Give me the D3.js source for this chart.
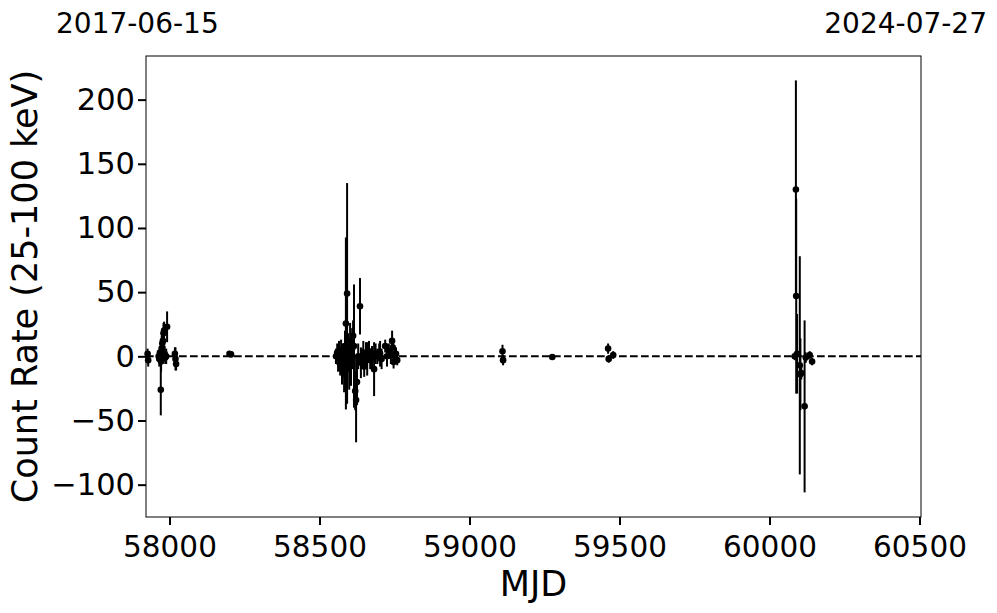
<!DOCTYPE html>
<html><head><meta charset="utf-8">
<script src="https://cdn.jsdelivr.net/npm/d3@7"></script>
<style>body{margin:0;background:#fff}svg{display:block;font-family:"DejaVu Sans",sans-serif}</style>
</head><body><svg id="c" width="997" height="613"></svg>
<script>
// Data (MJD, count rate 25-100 keV, 1-sigma error)
const mjd = [
  57927,57929,57964,57966,57968,57971,57972,57974,57976,57978,57980,57982,57984,57986,57989,57992,
  58018,58020,58022,58200,58205,
  58555,58559,58562,58565,58569,58572,58575,58579,58582,58585,58588,58592,58595,58599,58602,58605,
  58609,58612,58615,58619,58622,58625,58629,58635,58638,58642,58646,58649,58655,58659,58665,58669,
  58675,58682,58687,58693,58699,58702,58707,58719,58725,58731,58738,58742,58744,58747,58751,58755,58759,
  59110,59112,59276,59462,59464,59479,
  60084,60088,60089,60092,60101,60103,60106,60117,60121,60134,60142
];
const rate = [
  2,-3,0,-2,3,-26,-4,6,10,12,18,20,2,-1,0,23,
  2,-2,-6,2,1.5,
  0,3,-4,2,-6,5,-10,1,-14,8,25.6,49,3,-8,12,-3,
  6,16,8,-27,-34,-20,0,39,-5,-2,3,-8,1,-2,4,-3,
  -1,-10,2,0,3,2,-2,8,0,4,1,12,7,-4.5,0,2,-3,
  4,-3,-0.5,6,-2,1,
  0,130,47,2,-7,-14,-13,-39,-1,1,-4
];
const err = [
  4,5,4,6,5,20,8,10,8,9,8,7,6,5,6,12,
  5,9,5,2,2,
  6,7,8,10,9,8,12,9,14,12,67,86,15,18,14,20,
  16,12,48,15,33,18,10,22,12,8,9,8,10,13,8,7,
  9,21,8,6,7,10,8,5,8,6,7,8,6,5,6,5,4,
  5,4,2,4,3,3,
  3,85,76,31,85,28,5,67,4,3,3
];
const xTicks = [58000,58500,59000,59500,60000,60500];
const yTicks = [-100,-50,0,50,100,150,200];
const startLabel = "2017-06-15", endLabel = "2024-07-27";

const data = mjd.map((m,i)=>({m, v:rate[i], e:err[i]}));
const svg = d3.select("#c");
const L=146, R=921, T=56, B=517;
const x = d3.scaleLinear().domain([57921.7,60505]).range([L,R]);
const y = d3.scaleLinear().domain([-125.2,234]).range([B,T]);

// zero line
svg.append("line").attr("x1",L).attr("x2",R).attr("y1",y(0)).attr("y2",y(0))
  .attr("stroke","#000").attr("stroke-width",2).attr("stroke-dasharray","7.7,3.3");

// error bars
const g = svg.append("g");
g.selectAll("line.eb").data(data).join("line").attr("class","eb")
  .attr("x1",d=>x(d.m)).attr("x2",d=>x(d.m))
  .attr("y1",d=>y(d.v-d.e)).attr("y2",d=>y(d.v+d.e))
  .attr("stroke","#000").attr("stroke-width",2);
g.selectAll("circle").data(data).join("circle")
  .attr("cx",d=>x(d.m)).attr("cy",d=>y(d.v)).attr("r",3.3).attr("fill","#000");

// frame
svg.append("rect").attr("x",L).attr("y",T).attr("width",R-L).attr("height",B-T)
  .attr("fill","none").attr("stroke","#000").attr("stroke-width",1);

// axes
const xa = svg.append("g").attr("transform",`translate(0,${B})`)
  .call(d3.axisBottom(x).tickValues(xTicks).tickFormat(d3.format("d")).tickSize(8).tickPadding(5));
const ya = svg.append("g").attr("transform",`translate(${L},0)`)
  .call(d3.axisLeft(y).tickValues(yTicks).tickFormat(d=>d<0?"\u2212"+Math.abs(d):d).tickSize(8).tickPadding(3));
[xa,ya].forEach(a=>{
  a.select(".domain").remove();
  a.selectAll(".tick line").attr("stroke","#000").attr("stroke-width",2);
  a.selectAll(".tick text").attr("fill","#000").style("font-family","DejaVu Sans");
});
ya.selectAll(".tick text").style("font-size","30.5px");
xa.selectAll(".tick text").style("font-size","29.5px").attr("dy","0.9em");

// labels
svg.append("text").attr("x",(L+R)/2).attr("y",596).attr("text-anchor","middle")
  .style("font-size","35px").text("MJD");
svg.append("text").attr("transform",`translate(37,${(T+B)/2}) rotate(-90)`).attr("text-anchor","middle")
  .style("font-size","35px").text("Count Rate (25-100 keV)");
svg.append("text").attr("x",56).attr("y",33).style("font-size","28px").text(startLabel);
svg.append("text").attr("x",987).attr("y",33).attr("text-anchor","end").style("font-size","28px").text(endLabel);
</script></body></html>
